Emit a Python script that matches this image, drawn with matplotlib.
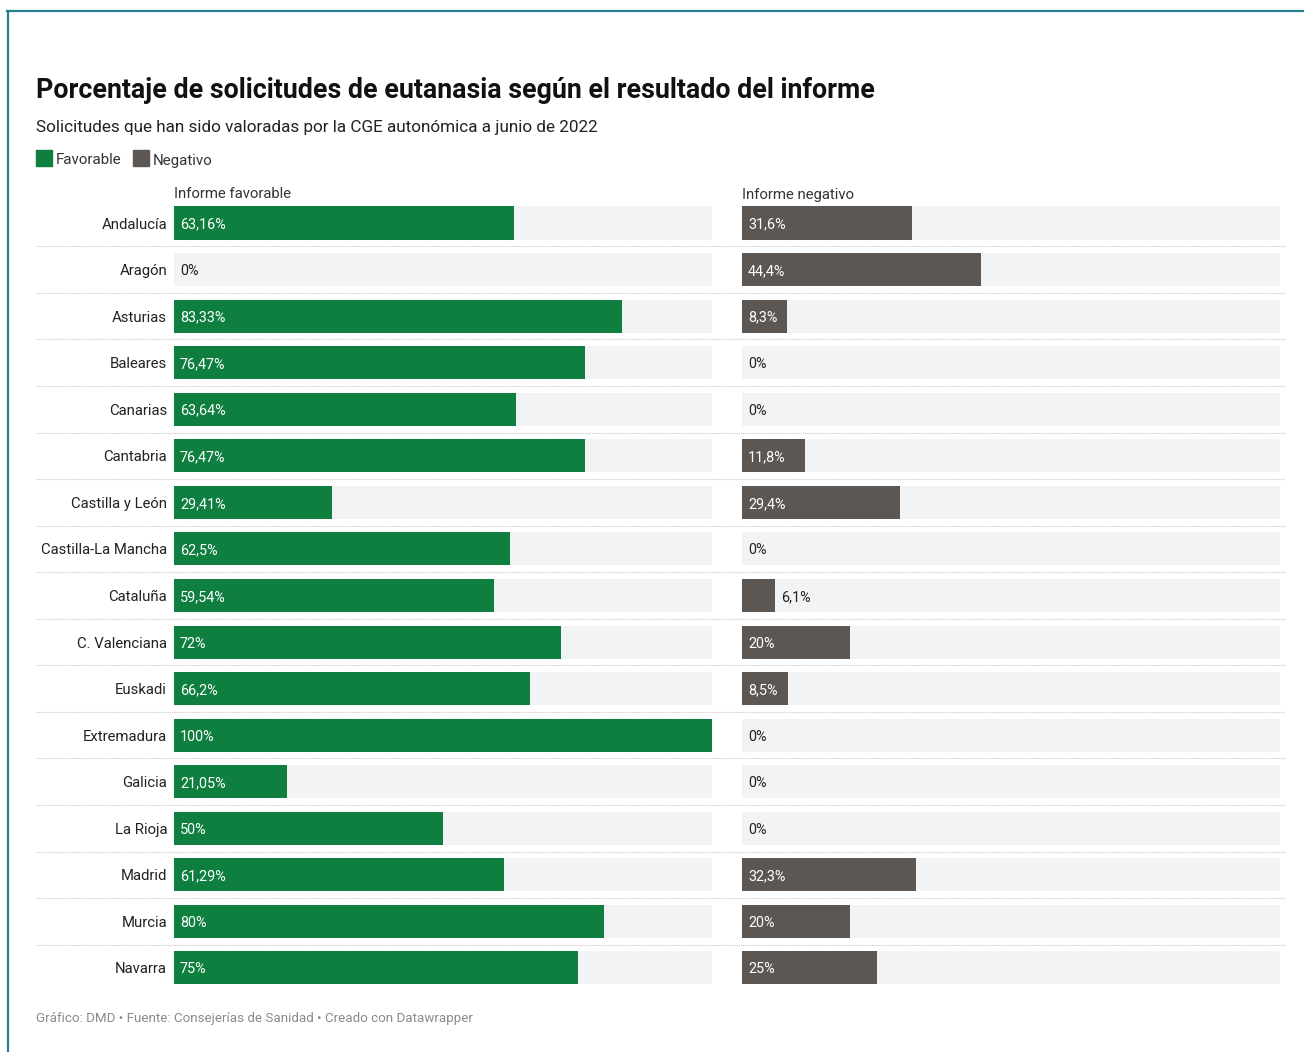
import matplotlib.pyplot as plt
from matplotlib.patches import Rectangle

plt.rcParams['font.family'] = ['Roboto', 'DejaVu Sans']

regiones = ['Andalucía', 'Aragón', 'Asturias', 'Baleares', 'Canarias', 'Cantabria',
            'Castilla y León', 'Castilla-La Mancha', 'Cataluña', 'C. Valenciana',
            'Euskadi', 'Extremadura', 'Galicia', 'La Rioja', 'Madrid', 'Murcia', 'Navarra']
favorable = [63.16, 0, 83.33, 76.47, 63.64, 76.47, 29.41, 62.5, 59.54, 72,
             66.2, 100, 21.05, 50, 61.29, 80, 75]
negativo = [31.6, 44.4, 8.3, 0, 0, 11.8, 29.4, 0, 6.1, 20,
            8.5, 0, 0, 0, 32.3, 20, 25]

VERDE = '#0f7f40'
GRIS = '#5d5753'
FONDO = '#f2f3f4'

W, H = 1304, 1052
fig = plt.figure(figsize=(W / 100, H / 100), dpi=100)

# capa de fondo en pixeles para textos, marco y separadores
bg = fig.add_axes([0, 0, 1, 1])
bg.set_xlim(0, W)
bg.set_ylim(H, 0)
bg.axis('off')

bg.plot([7, W], [11, 11], color='#2a7f8e', lw=1.6)
bg.plot([7.5, 7.5], [11, H], color='#2a7f8e', lw=1.6)

bg.text(36, 88, 'Porcentaje de solicitudes de eutanasia según el resultado del informe',
        fontsize=19.3, fontweight='bold', color='#111111', va='center_baseline')
bg.text(36, 126, 'Solicitudes que han sido valoradas por la CGE autonómica a junio de 2022',
        fontsize=12.3, color='#222222', va='center_baseline')

bg.add_patch(Rectangle((36, 150), 16, 16, color=VERDE))
bg.text(56, 159, 'Favorable', fontsize=10.9, color='#333333', va='center_baseline')
bg.add_patch(Rectangle((133, 150), 16, 16, color=GRIS))
bg.text(153, 159, 'Negativo', fontsize=10.9, color='#333333', va='center_baseline')

bg.text(174, 193, 'Informe favorable', fontsize=10.7, color='#333333', va='center_baseline')
bg.text(742, 193, 'Informe negativo', fontsize=10.7, color='#333333', va='center_baseline')

bg.text(36, 1017, 'Gráfico: DMD • Fuente: Consejerías de Sanidad • Creado con Datawrapper',
        fontsize=9.65, color='#8a8a8a', va='center_baseline')

y0 = 223
paso = 46.56
n = len(regiones)
for i in range(1, n):
    yy = y0 + (i - 0.5) * paso
    bg.plot([36, 1285], [yy, yy], color='#c8c8c8', lw=0.8, ls=(0, (1, 1)))

top = y0 - paso / 2
alto = n * paso


def panel(x_px, valores, color):
    ax = fig.add_axes([x_px / W, 1 - (top + alto) / H, 538 / W, alto / H])
    ax.set_xlim(0, 100)
    ax.set_ylim(n - 0.5, -0.5)
    ax.axis('off')
    pos = range(n)
    ax.barh(pos, [100] * n, height=0.71, color=FONDO)
    ax.barh(pos, valores, height=0.71, color=color)
    for i, v in enumerate(valores):
        txt = ('%g' % v).replace('.', ',') + '%'
        if v >= 8:
            ax.text(1.1, i, txt, color='white', fontsize=10.4, va='center_baseline')
        elif v == 0:
            ax.text(1.1, i, txt, color='#222222', fontsize=10.4, va='center_baseline')
        else:
            ax.text(v + 1.1, i, txt, color='#222222', fontsize=10.4, va='center_baseline')
    return ax


ax1 = panel(174, favorable, VERDE)
ax2 = panel(742, negativo, GRIS)

for i, r in enumerate(regiones):
    ax1.text(-1.3, i, r, ha='right', va='center_baseline', fontsize=10.7, color='#222222')

fig.savefig('out.png', dpi=100)
